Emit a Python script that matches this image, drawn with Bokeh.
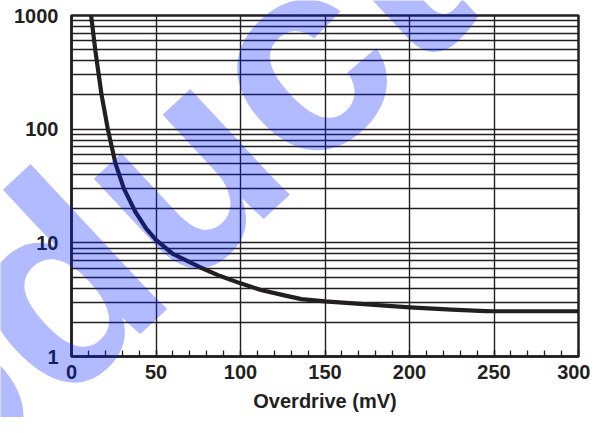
from bokeh.plotting import figure
from bokeh.models import Range1d, FixedTicker, PrintfTickFormatter, Label
from bokeh.layouts import column
from bokeh.embed import file_html
from bokeh.resources import INLINE

# Data
overdrive_mv = [11.6, 14.2, 17.8, 21.5, 26, 31, 38, 44, 50, 60, 76, 88, 100,
                112, 124, 136, 150, 175, 200, 225, 245, 250, 300]
response = [1000, 480, 200, 100, 50, 30, 18.5, 13.5, 10.6, 8.0, 6.1, 5.1, 4.4,
            3.85, 3.5, 3.2, 3.05, 2.87, 2.71, 2.58, 2.51, 2.50, 2.50]

x_major_ticks = [0, 50, 100, 150, 200, 250, 300]
x_minor_ticks = list(range(0, 301, 10))
y_major_ticks = [1, 10, 100, 1000]
y_minor_ticks = [2, 3, 4, 5, 6, 7, 8, 9, 20, 30, 40, 50, 60, 70, 80, 90,
                 200, 300, 400, 500, 600, 700, 800, 900]
x_label = "Overdrive (mV)"
watermark_text = "product"

INK = "#231f20"
FONT = "Liberation Sans"
W, H = 590, 417

p = figure(width=W, height=H, y_axis_type="log",
           x_range=Range1d(0, 300), y_range=Range1d(1, 1000),
           output_backend="svg", toolbar_location=None,
           min_border_left=71, min_border_right=12,
           min_border_top=15, min_border_bottom=61)
p.background_fill_color = "white"
p.border_fill_color = "white"
p.outline_line_color = INK
p.outline_line_width = 2.5

# axes
xa = p.xaxis[0]
xa.ticker = FixedTicker(ticks=x_major_ticks, minor_ticks=x_minor_ticks)
xa.major_tick_in = 6
xa.major_tick_out = 0
xa.minor_tick_in = 6
xa.minor_tick_out = 0
xa.major_tick_line_color = INK
xa.minor_tick_line_color = INK
xa.major_tick_line_width = 1.3
xa.minor_tick_line_width = 1.3
xa.axis_line_color = INK
xa.axis_line_width = 2.5
xa.major_label_text_font = FONT
xa.major_label_text_font_style = "bold"
xa.major_label_text_font_size = "20px"
xa.major_label_text_color = INK
xa.major_label_standoff = 8
xa.axis_label = x_label
xa.axis_label_text_font = FONT
xa.axis_label_text_font_style = "bold"
xa.axis_label_text_font_size = "20px"
xa.axis_label_text_color = INK
xa.axis_label_standoff = 8

ya = p.yaxis[0]
ya.ticker = FixedTicker(ticks=y_major_ticks, minor_ticks=y_minor_ticks)
ya.formatter = PrintfTickFormatter(format="%d")
ya.major_tick_in = 0
ya.major_tick_out = 0
ya.minor_tick_in = 0
ya.minor_tick_out = 0
ya.axis_line_color = INK
ya.axis_line_width = 2.5
ya.major_label_text_font = FONT
ya.major_label_text_font_style = "bold"
ya.major_label_text_font_size = "20px"
ya.major_label_text_color = INK
ya.major_label_standoff = 13

# grids
p.xgrid.ticker = FixedTicker(ticks=x_major_ticks)
p.xgrid.grid_line_color = INK
p.xgrid.grid_line_width = 1.4
p.ygrid.ticker = FixedTicker(ticks=y_major_ticks, minor_ticks=y_minor_ticks)
p.ygrid.grid_line_color = INK
p.ygrid.grid_line_width = 1.4
p.ygrid.minor_grid_line_color = INK
p.ygrid.minor_grid_line_width = 1.4

# curve
p.line(overdrive_mv, response, line_color=INK, line_width=4.2, line_join="round")

# watermark: a transparent figure laid over the whole chart
wmf = figure(width=W, height=H, x_range=Range1d(0, W), y_range=Range1d(H, 0),
             output_backend="svg", toolbar_location=None, min_border=0,
             x_axis_location=None, y_axis_location=None,
             styles={"margin-top": f"-{H}px"})
if "frame_align" in wmf.properties():
    wmf.frame_align = False
    p.frame_align = False
wmf.background_fill_color = None
wmf.border_fill_color = None
wmf.outline_line_color = None
wmf.grid.visible = False
wm = Label(x=-332, y=643, text=watermark_text, angle=43, angle_units="deg",
           text_font=FONT, text_font_style="bold", text_font_size="275px",
           text_color="#001eff", text_alpha=0.3,
           text_align="left", text_baseline="alphabetic")
wmf.add_layout(wm)

layout = column(p, wmf, spacing=0)
open("out.html", "w").write(file_html(layout, INLINE))
